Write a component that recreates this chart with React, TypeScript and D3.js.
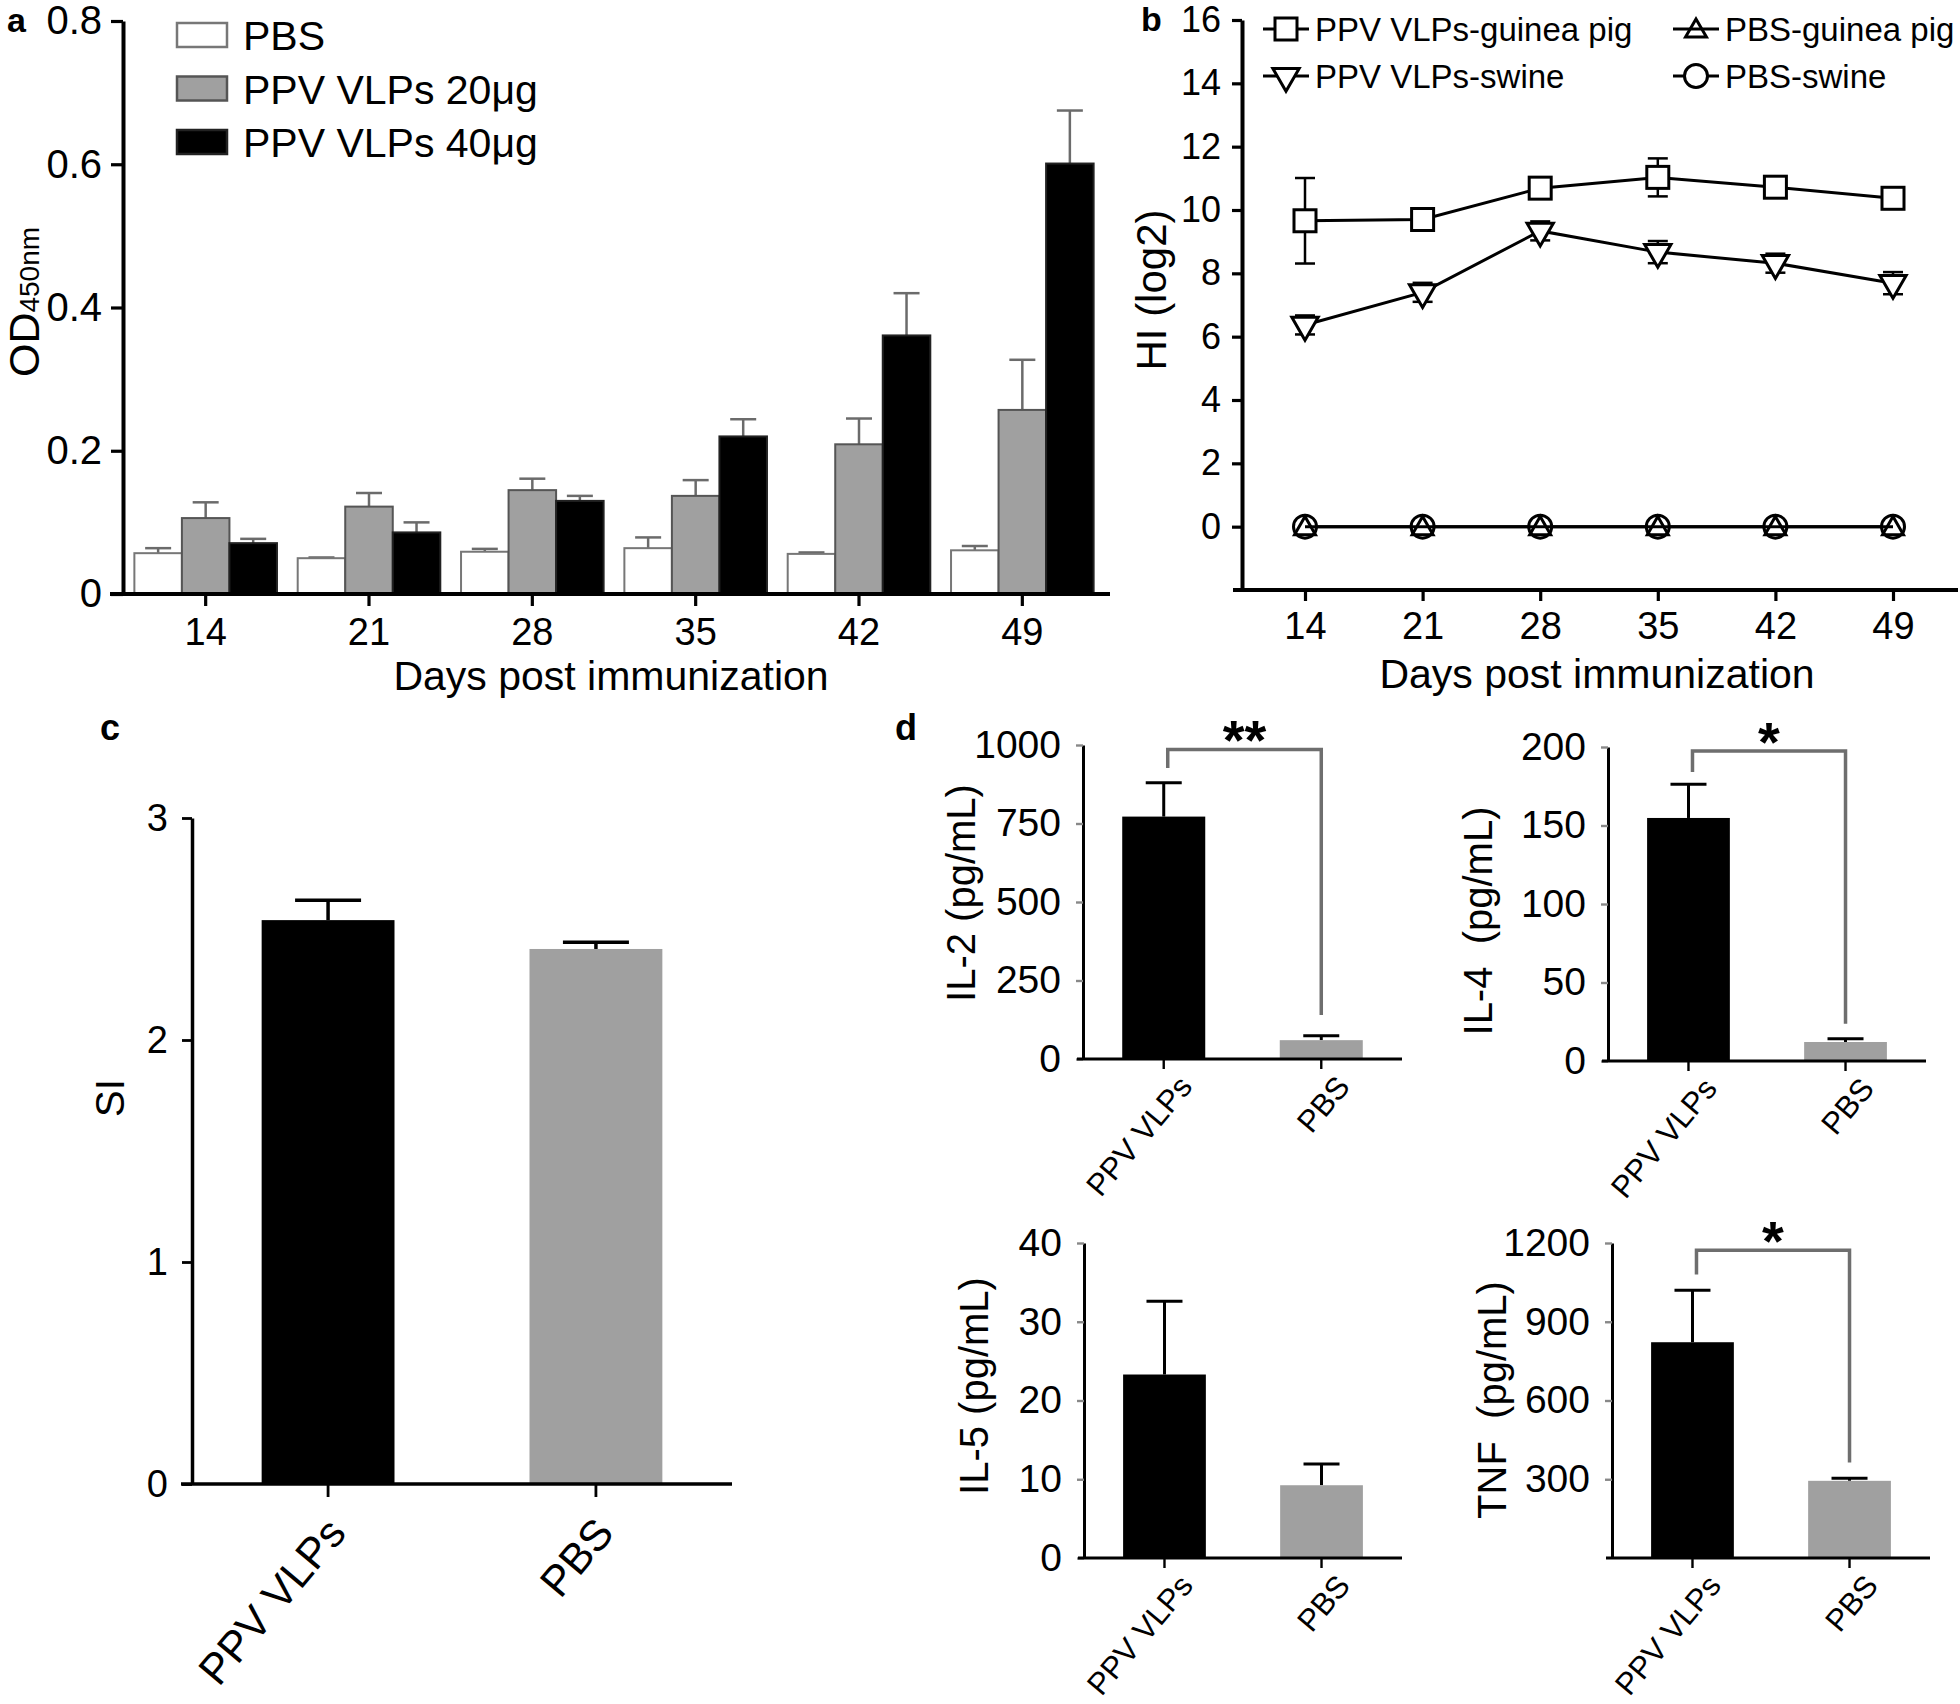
import React, { useEffect, useRef } from 'react';
import * as d3 from 'd3';

const FONT = 'Liberation Sans, Arial, Helvetica, sans-serif';

// ---- panel a: ELISA OD450 ----
const days = [14, 21, 28, 35, 42, 49];
const elisaGroups = ['PBS', 'PPV VLPs 20μg', 'PPV VLPs 40μg'];
const elisaFill = ['#ffffff', '#a0a0a0', '#000000'];
const elisaStroke = ['#777777', '#555555', '#222222'];
const elisaPBS = [0.057, 0.050, 0.059, 0.064, 0.056, 0.061];
const elisa20 = [0.106, 0.122, 0.145, 0.137, 0.209, 0.257];
const elisa40 = [0.071, 0.086, 0.130, 0.220, 0.361, 0.601];
const elisaPBSErr = [0.007, 0.001, 0.004, 0.015, 0.002, 0.006];
const elisa20Err = [0.022, 0.019, 0.016, 0.022, 0.036, 0.070];
const elisa40Err = [0.006, 0.014, 0.007, 0.024, 0.059, 0.074];
const elisaTicks = [0, 0.2, 0.4, 0.6, 0.8];

// ---- panel b: HI titers ----
const hiSeries = ['PPV VLPs-guinea pig', 'PPV VLPs-swine', 'PBS-guinea pig', 'PBS-swine'];
const hiGuinea = [9.66, 9.7, 10.69, 11.03, 10.72, 10.37];
const hiGuineaErr = [1.35, 0.12, 0.2, 0.6, 0.12, 0.15];
const hiSwine = [6.37, 7.4, 9.34, 8.67, 8.32, 7.69];
const hiSwineErr = [0.3, 0.3, 0.3, 0.35, 0.3, 0.35];
const hiPbsGuinea = [0, 0, 0, 0, 0, 0];
const hiPbsSwine = [0, 0, 0, 0, 0, 0];
const hiTicks = [0, 2, 4, 6, 8, 10, 12, 14, 16];

// ---- panel c: SI ----
const groups = ['PPV VLPs', 'PBS'];
const groupFill = ['#000000', '#a0a0a0'];
const siMeans = [2.54, 2.41];
const siErr = [0.09, 0.03];
const siTicks = [0, 1, 2, 3];

// ---- panel d: cytokines ----
const cytoNames = ['IL-2\u00a0(pg/mL)', 'IL-4\u00a0\u00a0(pg/mL)', 'IL-5\u00a0(pg/mL)', 'TNF\u00a0\u00a0(pg/mL)'];
const cytoMeans = [[772, 60], [154.8, 12.1], [23.3, 9.24], [822, 294]];
const cytoErr = [[108, 14], [21.4, 2.1], [9.3, 2.7], [198, 10]];
const cytoMax = [1000, 200, 40, 1200];
const cytoTicks = [[0, 250, 500, 750, 1000], [0, 50, 100, 150, 200], [0, 10, 20, 30, 40], [300, 600, 900, 1200]];
const cytoStars = ['**', '*', '', '*'];
const cytoBracketTop = [986, 197.5, 0, 1172];
const cytoBracketLegs = [[927, 140], [184, 23.8], [0, 0], [1080, 364]];

// layout of the four cytokine panels
const cytoLayout = [
  { left: 1083, right: 1402, top: 745, bottom: 1059, labelX: 975, labelY: 893 },
  { left: 1608, right: 1926, top: 747, bottom: 1061, labelX: 1492, labelY: 921 },
  { left: 1084, right: 1402, top: 1243, bottom: 1558, labelX: 988, labelY: 1386 },
  { left: 1612, right: 1930, top: 1243, bottom: 1558, labelX: 1506, labelY: 1400 },
];

function styleAxis(g, size, width) {
  g.attr('font-family', FONT).attr('font-size', size);
  g.selectAll('.domain').attr('stroke', '#000').attr('stroke-width', width);
  g.selectAll('.tick line').attr('stroke', '#000').attr('stroke-width', width * 0.8);
  g.selectAll('.tick text').attr('fill', '#000');
}

function drawElisa(g) {
  const x0 = d3.scaleBand().domain(days).range([124, 1104]).paddingInner(0.127).paddingOuter(0.0635);
  const x1 = d3.scaleBand().domain([0, 1, 2]).range([0, x0.bandwidth()]);
  const y = d3.scaleLinear().domain([0, 0.8]).range([594, 21]);
  const means = [elisaPBS, elisa20, elisa40];
  const errs = [elisaPBSErr, elisa20Err, elisa40Err];

  means.forEach((vals, gi) => {
    vals.forEach((v, i) => {
      const bx = x0(days[i]) + x1(gi);
      const cx = bx + x1.bandwidth() / 2;
      const top = y(v + errs[gi][i]);
      g.append('line').attr('x1', cx).attr('x2', cx).attr('y1', y(v)).attr('y2', top)
        .attr('stroke', '#6b6b6b').attr('stroke-width', 2.5);
      g.append('line').attr('x1', cx - 13).attr('x2', cx + 13).attr('y1', top).attr('y2', top)
        .attr('stroke', '#6b6b6b').attr('stroke-width', 2.5);
      g.append('rect').attr('x', bx).attr('y', y(v)).attr('width', x1.bandwidth())
        .attr('height', y(0) - y(v)).attr('fill', elisaFill[gi])
        .attr('stroke', elisaStroke[gi]).attr('stroke-width', 2);
    });
  });

  const ya = g.append('g').attr('transform', 'translate(123,0)')
    .call(d3.axisLeft(y).tickValues(elisaTicks).tickFormat(d => d === 0 ? '0' : d3.format('.1f')(d))
      .tickSize(12).tickSizeOuter(0).tickPadding(9));
  styleAxis(ya, 40, 4);

  const xa = g.append('g').attr('transform', 'translate(0,594)')
    .call(d3.axisBottom(x0).tickSize(12).tickSizeOuter(0).tickPadding(12));
  styleAxis(xa, 38, 4);
  xa.select('.domain').remove();
  g.append('line').attr('x1', 110).attr('x2', 1110).attr('y1', 594).attr('y2', 594)
    .attr('stroke', '#000').attr('stroke-width', 4);

  g.append('text').attr('x', 611).attr('y', 690).attr('text-anchor', 'middle')
    .attr('font-size', 41).text('Days post immunization');
  const yl = g.append('text').attr('transform', 'translate(39,302) rotate(-90)')
    .attr('text-anchor', 'middle').attr('font-size', 43).text('OD');
  yl.append('tspan').attr('font-size', 28).text('450nm');
  g.append('text').attr('x', 7).attr('y', 32).attr('font-weight', 'bold').attr('font-size', 34).text('a');

  // legend
  elisaGroups.forEach((name, i) => {
    const top = 23 + i * 53.5;
    g.append('rect').attr('x', 177).attr('y', top).attr('width', 50).attr('height', 24)
      .attr('fill', elisaFill[i]).attr('stroke', elisaStroke[i]).attr('stroke-width', 2.5);
    g.append('text').attr('x', 243).attr('y', top + 27).attr('font-size', 41).text(name);
  });
}

function marker(g, kind, cx, cy) {
  const line = '#000';
  if (kind === 'square') {
    g.append('rect').attr('x', cx - 11).attr('y', cy - 11).attr('width', 22).attr('height', 22)
      .attr('fill', '#fff').attr('stroke', line).attr('stroke-width', 3);
  } else if (kind === 'circle') {
    g.append('circle').attr('cx', cx).attr('cy', cy).attr('r', 11.5)
      .attr('fill', '#fff').attr('stroke', line).attr('stroke-width', 3);
  } else {
    const path = d3.symbol().type(d3.symbolTriangle).size(kind === 'up' ? 190 : 300)();
    g.append('path').attr('d', path)
      .attr('transform', `translate(${cx},${cy + (kind === 'up' ? 2 : 0)}) rotate(${kind === 'down' ? 180 : 0})`)
      .attr('fill', kind === 'up' ? 'none' : '#fff').attr('stroke', line).attr('stroke-width', 3);
  }
}

function drawHI(g) {
  const x = d3.scaleLinear().domain([14, 49]).range([1305, 1893]);
  const y = d3.scaleLinear().domain([-2, 16]).range([590, 20]);

  const ya = g.append('g').attr('transform', 'translate(1242,0)')
    .call(d3.axisLeft(y).tickValues(hiTicks).tickSize(10).tickSizeOuter(0).tickPadding(11));
  styleAxis(ya, 36, 4);
  const xa = g.append('g').attr('transform', 'translate(0,590)')
    .call(d3.axisBottom(x).tickValues(days).tickSize(11).tickSizeOuter(0).tickPadding(11));
  styleAxis(xa, 38, 4);
  xa.select('.domain').remove();
  g.append('line').attr('x1', 1233).attr('x2', 1958).attr('y1', 590).attr('y2', 590)
    .attr('stroke', '#000').attr('stroke-width', 4);

  const line = d3.line().x((d, i) => x(days[i])).y(d => y(d));
  const series = [
    { vals: hiPbsSwine, err: null, kind: 'circle' },
    { vals: hiPbsGuinea, err: null, kind: 'up' },
    { vals: hiSwine, err: hiSwineErr, kind: 'down' },
    { vals: hiGuinea, err: hiGuineaErr, kind: 'square' },
  ];
  series.forEach(s => {
    g.append('path').datum(s.vals).attr('d', line).attr('fill', 'none')
      .attr('stroke', '#000').attr('stroke-width', 3);
    if (s.err) {
      s.vals.forEach((v, i) => {
        const cx = x(days[i]);
        const lo = y(v - s.err[i]), hi = y(v + s.err[i]);
        g.append('line').attr('x1', cx).attr('x2', cx).attr('y1', lo).attr('y2', hi)
          .attr('stroke', '#000').attr('stroke-width', 2.5);
        [lo, hi].forEach(yy => g.append('line').attr('x1', cx - 10).attr('x2', cx + 10)
          .attr('y1', yy).attr('y2', yy).attr('stroke', '#000').attr('stroke-width', 2.5));
      });
    }
    s.vals.forEach((v, i) => marker(g, s.kind, x(days[i]), y(v)));
  });

  // legend
  const legendKinds = ['square', 'down', 'up', 'circle'];
  hiSeries.forEach((name, i) => {
    const col = i < 2 ? 0 : 1;
    const row = i % 2;
    const lx = col === 0 ? 1263 : 1673;
    const ly = 29 + row * 47;
    g.append('line').attr('x1', lx).attr('x2', lx + 46).attr('y1', ly).attr('y2', ly)
      .attr('stroke', '#000').attr('stroke-width', 3);
    marker(g, legendKinds[i], lx + 23, ly);
    g.append('text').attr('x', lx + 52).attr('y', ly + 12).attr('font-size', 33).text(name);
  });

  g.append('text').attr('x', 1597).attr('y', 688).attr('text-anchor', 'middle')
    .attr('font-size', 41).text('Days post immunization');
  g.append('text').attr('transform', 'translate(1166,290) rotate(-90)').attr('text-anchor', 'middle')
    .attr('font-size', 42).text('HI (log2)');
  g.append('text').attr('x', 1141).attr('y', 31).attr('font-weight', 'bold').attr('font-size', 34).text('b');
}

function drawSI(g) {
  const x = d3.scaleBand().domain(groups).range([192, 732]).paddingInner(0.504).paddingOuter(0.26);
  const y = d3.scaleLinear().domain([0, 3]).range([1484, 818]);

  siMeans.forEach((v, i) => {
    const bx = x(groups[i]);
    const cx = bx + x.bandwidth() / 2;
    const top = y(v + siErr[i]);
    g.append('line').attr('x1', cx).attr('x2', cx).attr('y1', y(v)).attr('y2', top)
      .attr('stroke', '#000').attr('stroke-width', 3.5);
    g.append('line').attr('x1', cx - 33).attr('x2', cx + 33).attr('y1', top).attr('y2', top)
      .attr('stroke', '#000').attr('stroke-width', 3.5);
    g.append('rect').attr('x', bx).attr('y', y(v)).attr('width', x.bandwidth())
      .attr('height', y(0) - y(v)).attr('fill', groupFill[i]);
  });

  const ya = g.append('g').attr('transform', 'translate(192,0)')
    .call(d3.axisLeft(y).tickValues(siTicks).tickFormat(d3.format('d'))
      .tickSize(10).tickSizeOuter(0).tickPadding(14));
  styleAxis(ya, 38, 3.5);
  const xa = g.append('g').attr('transform', 'translate(0,1484)')
    .call(d3.axisBottom(x).tickSize(13).tickSizeOuter(0).tickFormat(() => ''));
  styleAxis(xa, 36, 3.5);
  xa.select('.domain').remove();
  g.append('line').attr('x1', 181).attr('x2', 732).attr('y1', 1484).attr('y2', 1484)
    .attr('stroke', '#000').attr('stroke-width', 3.5);

  groups.forEach(name => {
    const cx = x(name) + x.bandwidth() / 2;
    g.append('text').attr('transform', `translate(${cx - 4},${1484 + 30}) rotate(-50)`)
      .attr('text-anchor', 'end').attr('dy', '0.72em').attr('font-size', 43).text(name);
  });
  g.append('text').attr('transform', 'translate(124,1098) rotate(-90)').attr('text-anchor', 'middle')
    .attr('font-size', 40).text('SI');
  g.append('text').attr('x', 100).attr('y', 740).attr('font-weight', 'bold').attr('font-size', 36).text('c');
}

function drawCytokine(g, k) {
  const L = cytoLayout[k];
  const x = d3.scaleBand().domain(groups).range([L.left, L.right]).paddingInner(0.473).paddingOuter(0.249);
  const y = d3.scaleLinear().domain([0, cytoMax[k]]).range([L.bottom, L.top]);

  cytoMeans[k].forEach((v, i) => {
    const bx = x(groups[i]);
    const cx = bx + x.bandwidth() / 2;
    const top = y(v + cytoErr[k][i]);
    g.append('line').attr('x1', cx).attr('x2', cx).attr('y1', y(v)).attr('y2', top)
      .attr('stroke', '#000').attr('stroke-width', 3);
    g.append('line').attr('x1', cx - 18).attr('x2', cx + 18).attr('y1', top).attr('y2', top)
      .attr('stroke', '#000').attr('stroke-width', 3);
    g.append('rect').attr('x', bx).attr('y', y(v)).attr('width', x.bandwidth())
      .attr('height', y(0) - y(v)).attr('fill', groupFill[i]);
  });

  const ya = g.append('g').attr('transform', `translate(${L.left},0)`)
    .call(d3.axisLeft(y).tickValues(cytoTicks[k]).tickFormat(d3.format('d'))
      .tickSize(7).tickSizeOuter(0).tickPadding(15));
  styleAxis(ya, 39, 3);
  ya.selectAll('.tick line').attr('stroke', '#888');
  const xa = g.append('g').attr('transform', `translate(0,${L.bottom})`)
    .call(d3.axisBottom(x).tickSize(10).tickSizeOuter(0).tickFormat(() => ''));
  styleAxis(xa, 34, 3);
  xa.select('.domain').remove();
  g.append('line').attr('x1', L.left - 6).attr('x2', L.right).attr('y1', L.bottom).attr('y2', L.bottom)
    .attr('stroke', '#000').attr('stroke-width', 3);

  groups.forEach(name => {
    const cx = x(name) + x.bandwidth() / 2;
    g.append('text').attr('transform', `translate(${cx + 13},${L.bottom + 14}) rotate(-50)`)
      .attr('text-anchor', 'end').attr('dy', '0.72em').attr('font-size', 31).text(name);
  });
  g.append('text').attr('transform', `translate(${L.labelX},${L.labelY}) rotate(-90)`)
    .attr('text-anchor', 'middle').attr('font-size', 40).text(cytoNames[k]);

  if (cytoStars[k]) {
    const c0 = x(groups[0]) + x.bandwidth() / 2 + 4;
    const c1 = x(groups[1]) + x.bandwidth() / 2;
    const by = y(cytoBracketTop[k]);
    const legs = cytoBracketLegs[k];
    g.append('path')
      .attr('d', `M${c0},${y(legs[0])}V${by}H${c1}V${y(legs[1])}`)
      .attr('fill', 'none').attr('stroke', '#6e6e6e').attr('stroke-width', 3.5);
    g.append('text').attr('x', (c0 + c1) / 2).attr('y', by + 10).attr('text-anchor', 'middle')
      .attr('font-weight', 'bold').attr('font-size', 56).text(cytoStars[k]);
  }
}

export default function App() {
  const ref = useRef(null);
  useEffect(() => {
    const svg = d3.select(ref.current);
    svg.selectAll('*').remove();
    svg.attr('font-family', FONT);
    drawElisa(svg.append('g'));
    drawHI(svg.append('g'));
    drawSI(svg.append('g'));
    cytoNames.forEach((_, k) => drawCytokine(svg.append('g'), k));
    svg.append('text').attr('x', 895).attr('y', 740).attr('font-weight', 'bold')
      .attr('font-size', 36).attr('font-family', FONT).text('d');
  }, []);
  return (
    <div style={{ position: 'absolute', left: 0, top: 0 }}>
      <svg ref={ref} width={1960} height={1704} style={{ display: 'block', background: '#fff' }} />
    </div>
  );
}
